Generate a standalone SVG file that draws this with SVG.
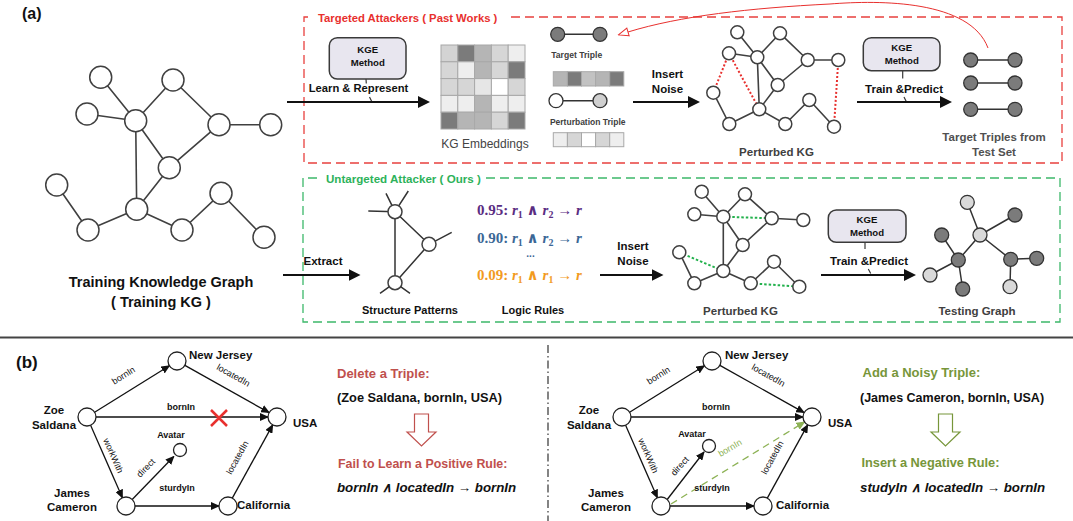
<svg xmlns="http://www.w3.org/2000/svg" width="1073" height="521" viewBox="0 0 1073 521">
<defs>
<style>
text{font-family:"Liberation Sans",Arial,sans-serif;fill:#111}
.b{font-weight:bold}
.c{text-anchor:middle}
.e{stroke:#404040;stroke-width:1.6;fill:none}
.n{fill:#fff;stroke:#404040;stroke-width:1.5}
.dk{fill:#7b7b7b;stroke:#333;stroke-width:1.3}
.lt{fill:#d9d9d9;stroke:#333;stroke-width:1.3}
.ar{stroke:#111;stroke-width:2;fill:none}
.kge{fill:#e8e6ef;stroke:#3a3a3a;stroke-width:1.5}
.kt{font-size:9.6px;font-weight:bold;text-anchor:middle}
.tk{stroke:#3a3a3a;stroke-width:1.2;fill:none}
.rd{stroke:#e8302e;stroke-width:2;stroke-dasharray:2 2;fill:none}
.gd{stroke:#22b14c;stroke-width:2;stroke-dasharray:2.5 2;fill:none}
.be{stroke:#111;stroke-width:1.3;fill:none}
.bn{fill:#fff;stroke:#222;stroke-width:1.3}
.bl{font-size:11.5px;font-weight:bold}
.el{font-size:9px}
.gl{font-size:11.5px;font-weight:bold;fill:#404040}
.rule{font-family:"Liberation Serif","DejaVu Serif",serif;font-weight:bold;font-size:15px}
.v{font-style:italic}
.sub{font-size:10px}
.cell{stroke:#a8a8a8;stroke-width:1}
</style>
<marker id="ah" markerUnits="userSpaceOnUse" markerWidth="12" markerHeight="12" refX="8" refY="6" orient="auto"><path d="M0,0 L12,6 L0,12 z" fill="#111"/></marker>
<marker id="sh" markerUnits="userSpaceOnUse" markerWidth="9" markerHeight="8" refX="8" refY="4" orient="auto"><path d="M0,0 L9,4 L0,8 z" fill="#111"/></marker>
<marker id="gh" markerUnits="userSpaceOnUse" markerWidth="9" markerHeight="8" refX="8" refY="4" orient="auto"><path d="M0,0 L9,4 L0,8 z" fill="#8db255"/></marker>
<marker id="oh" markerUnits="userSpaceOnUse" markerWidth="12" markerHeight="10" refX="1" refY="5" orient="auto"><path d="M1,1 L11,5 L1,9 z" fill="#fff" stroke="#e8302e" stroke-width="1"/></marker>
</defs>

<rect width="1073" height="521" fill="#fff"/>

<text x="22" y="19" class="b" font-size="16">(a)</text>

<!-- Training KG -->
<g id="training-kg">
<path class="e" d="M100.7,77.3 L135.7,120.7 M87,114 L135.7,120.7 M135.7,120.7 L173,80 M173,80 L219,124.7 M219,124.7 L270.7,124.7 M219,124.7 L169.3,167.7 M135.7,120.7 L169.3,167.7 M135.7,120.7 L136.7,209.3 M169.3,167.7 L136.7,209.3 M56.7,185 L88,230 M88,230 L136.7,209.3 M136.7,209.3 L182,230 M182,230 L221,193.3 M221,193.3 L264,237.3"/>
<circle class="n" cx="100.7" cy="77.3" r="11"/>
<circle class="n" cx="173" cy="80" r="11"/>
<circle class="n" cx="87" cy="114" r="11"/>
<circle class="n" cx="135.7" cy="120.7" r="11"/>
<circle class="n" cx="219" cy="124.7" r="11"/>
<circle class="n" cx="270.7" cy="124.7" r="11"/>
<circle class="n" cx="169.3" cy="167.7" r="11"/>
<circle class="n" cx="56.7" cy="185" r="11"/>
<circle class="n" cx="136.7" cy="209.3" r="11"/>
<circle class="n" cx="221" cy="193.3" r="11"/>
<circle class="n" cx="88" cy="230" r="11"/>
<circle class="n" cx="182" cy="230" r="11"/>
<circle class="n" cx="264" cy="237.3" r="11"/>
<text x="161" y="287" class="b c" font-size="14.5">Training Knowledge Graph</text>
<text x="161" y="307" class="b c" font-size="14.5">( Training KG )</text>
</g>

<!-- Targeted box -->
<g id="targeted-box">
<path d="M511,17 H1062 V163 H304 V17 H313" fill="none" stroke="#e8403e" stroke-width="1.3" stroke-dasharray="9 5"/>
<text x="318" y="21.5" class="b" font-size="11.3" fill="#e8302e" style="fill:#e8302e">Targeted Attackers ( Past Works )</text>
</g>

<!-- Untargeted box -->
<g id="untargeted-box">
<path d="M486,178 H1060 V322 H303 V178 H318" fill="none" stroke="#3cb86a" stroke-width="1.3" stroke-dasharray="9 5"/>
<text x="326" y="183" class="b" font-size="11.6" style="fill:#2db25a">Untargeted Attacker ( Ours )</text>
</g>

<!-- KGE box 1 -->
<g id="kge1">
<rect class="kge" x="329.3" y="37.7" width="76.7" height="41.3" rx="8"/>
<text x="367.7" y="53" class="kt">KGE</text>
<text x="367.7" y="66" class="kt">Method</text>
<path class="tk" d="M366,79 L366.3,83.5 M369.5,97 L372,102"/>
<text x="358.5" y="92" class="b c" font-size="11.2">Learn &amp; Represent</text>
</g>

<!-- KG embeddings -->
<g id="kg-embeddings">
<rect class="cell" x="441" y="45" width="16.8" height="16.8" fill="#d3d3d3"/>
<rect class="cell" x="457.8" y="45" width="16.8" height="16.8" fill="#7b7b7b"/>
<rect class="cell" x="474.6" y="45" width="16.8" height="16.8" fill="#b5b5b5"/>
<rect class="cell" x="491.4" y="45" width="16.8" height="16.8" fill="#d6d6d6"/>
<rect class="cell" x="508.2" y="45" width="16.8" height="16.8" fill="#eeeeee"/>
<rect class="cell" x="441" y="61.8" width="16.8" height="16.8" fill="#d6d6d6"/>
<rect class="cell" x="457.8" y="61.8" width="16.8" height="16.8" fill="#eeeeee"/>
<rect class="cell" x="474.6" y="61.8" width="16.8" height="16.8" fill="#b5b5b5"/>
<rect class="cell" x="491.4" y="61.8" width="16.8" height="16.8" fill="#d6d6d6"/>
<rect class="cell" x="508.2" y="61.8" width="16.8" height="16.8" fill="#7b7b7b"/>
<rect class="cell" x="441" y="78.6" width="16.8" height="16.8" fill="#d6d6d6"/>
<rect class="cell" x="457.8" y="78.6" width="16.8" height="16.8" fill="#d6d6d6"/>
<rect class="cell" x="474.6" y="78.6" width="16.8" height="16.8" fill="#e6e6e6"/>
<rect class="cell" x="491.4" y="78.6" width="16.8" height="16.8" fill="#ffffff"/>
<rect class="cell" x="508.2" y="78.6" width="16.8" height="16.8" fill="#d6d6d6"/>
<rect class="cell" x="441" y="95.4" width="16.8" height="16.8" fill="#eeeeee"/>
<rect class="cell" x="457.8" y="95.4" width="16.8" height="16.8" fill="#eeeeee"/>
<rect class="cell" x="474.6" y="95.4" width="16.8" height="16.8" fill="#b5b5b5"/>
<rect class="cell" x="491.4" y="95.4" width="16.8" height="16.8" fill="#eeeeee"/>
<rect class="cell" x="508.2" y="95.4" width="16.8" height="16.8" fill="#eeeeee"/>
<rect class="cell" x="441" y="112.2" width="16.8" height="16.8" fill="#7b7b7b"/>
<rect class="cell" x="457.8" y="112.2" width="16.8" height="16.8" fill="#b5b5b5"/>
<rect class="cell" x="474.6" y="112.2" width="16.8" height="16.8" fill="#b5b5b5"/>
<rect class="cell" x="491.4" y="112.2" width="16.8" height="16.8" fill="#d6d6d6"/>
<rect class="cell" x="508.2" y="112.2" width="16.8" height="16.8" fill="#7b7b7b"/>
<text x="485" y="148" class="c" font-size="12" style="fill:#444">KG Embeddings</text>
</g>

<!-- Target / perturbation triple -->
<g id="triples">
<line x1="557.7" y1="34.3" x2="600" y2="34.3" stroke="#333" stroke-width="1.5"/>
<circle class="dk" cx="557.7" cy="34.3" r="7"/>
<circle class="dk" cx="600" cy="34.3" r="7"/>
<text x="576.7" y="58" class="b c" font-size="8.6" style="fill:#404040">Target Triple</text>
<rect class="cell" x="553.3" y="71.7" width="14.1" height="14.3" fill="#b5b5b5"/>
<rect class="cell" x="567.4" y="71.7" width="14.1" height="14.3" fill="#7b7b7b"/>
<rect class="cell" x="581.5" y="71.7" width="14.1" height="14.3" fill="#c2c2c2"/>
<rect class="cell" x="595.6" y="71.7" width="14.1" height="14.3" fill="#b5b5b5"/>
<rect class="cell" x="609.7" y="71.7" width="14.1" height="14.3" fill="#7b7b7b"/>
<line x1="556" y1="100.7" x2="600" y2="100.7" stroke="#333" stroke-width="1.5"/>
<circle cx="556" cy="100.7" r="7" fill="#fff" stroke="#333" stroke-width="1.3"/>
<circle cx="600" cy="100.7" r="7" fill="#d0d0d0" stroke="#333" stroke-width="1.3"/>
<text x="587.7" y="125" class="b c" font-size="8.5" style="fill:#404040">Perturbation Triple</text>
<rect class="cell" x="553.3" y="132.7" width="14.1" height="14" fill="#eeeeee"/>
<rect class="cell" x="567.4" y="132.7" width="14.1" height="14" fill="#d6d6d6"/>
<rect class="cell" x="581.5" y="132.7" width="14.1" height="14" fill="#ffffff"/>
<rect class="cell" x="595.6" y="132.7" width="14.1" height="14" fill="#d6d6d6"/>
<rect class="cell" x="609.7" y="132.7" width="14.1" height="14" fill="#eeeeee"/>
</g>

<!-- Perturbed KG top -->
<g id="perturbed-kg-top">
<path class="e" stroke-width="1.5" d="M737.3,32.3 L757.3,57.3 M729,53.3 L757.3,57.3 M757.3,57.3 L780,33.3 M780,33.3 L807.7,60 M807.7,60 L838.3,60 M807.7,60 L777.7,85 M757.3,57.3 L777.7,85 M757.3,57.3 L759.3,109.3 M777.7,85 L759.3,109.3 M713.3,92.7 L729.3,124 M729.3,124 L759.3,109.3 M759.3,109.3 L785.3,124 M785.3,124 L809.3,100 M809.3,100 L834,126.7"/>
<path class="rd" d="M729,53.3 L713.3,92.7 M729,53.3 L759.3,109.3 M838.3,60 L834,126.7"/>
<circle class="n" cx="737.3" cy="32.3" r="6.5"/>
<circle class="n" cx="780" cy="33.3" r="6.5"/>
<circle class="n" cx="729" cy="53.3" r="6.5"/>
<circle class="n" cx="757.3" cy="57.3" r="6.5"/>
<circle class="n" cx="807.7" cy="60" r="6.5"/>
<circle class="n" cx="838.3" cy="60" r="6.5"/>
<circle class="n" cx="777.7" cy="85" r="6.5"/>
<circle class="n" cx="713.3" cy="92.7" r="6.5"/>
<circle class="n" cx="759.3" cy="109.3" r="6.5"/>
<circle class="n" cx="809.3" cy="100" r="6.5"/>
<circle class="n" cx="729.3" cy="124" r="6.5"/>
<circle class="n" cx="785.3" cy="124" r="6.5"/>
<circle class="n" cx="834" cy="126.7" r="6.5"/>
<text x="776.5" y="156" class="gl c">Perturbed KG</text>
</g>

<!-- KGE box 2 -->
<g id="kge2">
<rect class="kge" x="863.3" y="37.7" width="76.7" height="33" rx="8"/>
<text x="901.7" y="51" class="kt">KGE</text>
<text x="901.7" y="64" class="kt">Method</text>
<path class="tk" d="M902.7,70.7 L902.7,78.5 M904,97 L906.5,102"/>
<text x="904" y="92.5" class="b c" font-size="11.5">Train &amp;Predict</text>
</g>

<!-- Target triples from test set -->
<g id="target-triples">
<path stroke="#333" stroke-width="1.5" d="M970.7,60 H1015 M970.7,83 H1015 M970.7,109.3 H1015"/>
<circle class="dk" cx="970.7" cy="60" r="7"/>
<circle class="dk" cx="1015" cy="60" r="7"/>
<circle class="dk" cx="970.7" cy="83" r="7"/>
<circle class="dk" cx="1015" cy="83" r="7"/>
<circle class="dk" cx="970.7" cy="109.3" r="7"/>
<circle class="dk" cx="1015" cy="109.3" r="7"/>
<text x="994" y="141" class="b c" font-size="11.5" style="fill:#505050">Target Triples from</text>
<text x="994" y="156" class="b c" font-size="11.5" style="fill:#505050">Test Set</text>
</g>

<!-- Structure patterns -->
<g id="structure-patterns">
<path stroke="#333" stroke-width="1.5" fill="none" d="M395,211.7 L395,282.7 M395,211.7 L429,244.3 M429,244.3 L395,282.7 M395,211.7 L386,193.3 M395,211.7 L408.3,191 M395,211.7 L368.3,211 M429,244.3 L451.7,232.3 M395,282.7 L380,293.3 M395,282.7 L410,293.3"/>
<circle class="n" cx="395" cy="211.7" r="7"/>
<circle class="n" cx="429" cy="244.3" r="7"/>
<circle class="n" cx="395" cy="282.7" r="7"/>
<text x="410" y="314" class="b c" font-size="11">Structure Patterns</text>
</g>

<!-- Logic rules -->
<g id="logic-rules">
<text x="477" y="215" class="rule" style="fill:#5a2d82">0.95: <tspan class="v">r</tspan><tspan class="sub" dy="3">1</tspan><tspan dy="-3"> ∧ </tspan><tspan class="v">r</tspan><tspan class="sub" dy="3">2</tspan><tspan dy="-3"> → </tspan><tspan class="v">r</tspan></text>
<text x="477" y="242.5" class="rule" style="fill:#3b6796">0.90: <tspan class="v">r</tspan><tspan class="sub" dy="3">1</tspan><tspan dy="-3"> ∧ </tspan><tspan class="v">r</tspan><tspan class="sub" dy="3">2</tspan><tspan dy="-3"> → </tspan><tspan class="v">r</tspan></text>
<text x="530.5" y="257" class="b c" font-size="10" style="fill:#3b6796">...</text>
<text x="477" y="279.5" class="rule" style="fill:#f29b1f">0.09: <tspan class="v">r</tspan><tspan class="sub" dy="3">1</tspan><tspan dy="-3"> ∧ </tspan><tspan class="v">r</tspan><tspan class="sub" dy="3">1</tspan><tspan dy="-3"> → </tspan><tspan class="v">r</tspan></text>
<text x="533" y="314" class="b c" font-size="11">Logic Rules</text>
</g>

<!-- Perturbed KG bottom -->
<g id="perturbed-kg-bottom">
<path class="e" stroke-width="1.5" d="M701.7,191.7 L723.3,216.7 M694.3,214.3 L723.3,216.7 M723.3,216.7 L745,194.3 M745,194.3 L771.7,218.3 M771.7,218.3 L803.3,220 M771.7,218.3 L742.7,245 M723.3,216.7 L742.7,245 M723.3,216.7 L723.3,271 M742.7,245 L723.3,271 M679.3,252.3 L694.3,283.3 M694.3,283.3 L723.3,271 M723.3,271 L750.7,283.3 M750.7,283.3 L774,261.7 M774,261.7 L799.3,286.7"/>
<path class="gd" d="M723.3,216.7 L771.7,218.3 M679.3,252.3 L723.3,271 M750.7,283.3 L799.3,286.7"/>
<circle class="n" cx="701.7" cy="191.7" r="6.5"/>
<circle class="n" cx="745" cy="194.3" r="6.5"/>
<circle class="n" cx="694.3" cy="214.3" r="6.5"/>
<circle class="n" cx="723.3" cy="216.7" r="6.5"/>
<circle class="n" cx="771.7" cy="218.3" r="6.5"/>
<circle class="n" cx="803.3" cy="220" r="6.5"/>
<circle class="n" cx="742.7" cy="245" r="6.5"/>
<circle class="n" cx="679.3" cy="252.3" r="6.5"/>
<circle class="n" cx="723.3" cy="271" r="6.5"/>
<circle class="n" cx="774" cy="261.7" r="6.5"/>
<circle class="n" cx="694.3" cy="283.3" r="6.5"/>
<circle class="n" cx="750.7" cy="283.3" r="6.5"/>
<circle class="n" cx="799.3" cy="286.7" r="6.5"/>
<text x="740.5" y="315" class="gl c">Perturbed KG</text>
</g>

<!-- KGE box 3 -->
<g id="kge3">
<rect class="kge" x="828.3" y="210" width="77.7" height="32.3" rx="8"/>
<text x="867" y="223" class="kt">KGE</text>
<text x="867" y="236" class="kt">Method</text>
<path class="tk" d="M865,242.3 L865,249 M868.3,269 L870.7,273.5"/>
<text x="869" y="264.5" class="b c" font-size="11.5">Train &amp;Predict</text>
</g>

<!-- Testing graph -->
<g id="testing-graph">
<path stroke="#333" stroke-width="1.5" fill="none" d="M967.3,202.3 L980,235 M1015,215 L980,235 M980,235 L958.3,260 M980,235 L1010.7,259.3 M941.7,235 L958.3,260 M958.3,260 L930,275 M958.3,260 L962.7,289 M1010.7,259.3 L1036.7,258.3 M1010.7,259.3 L1010,286.7"/>
<circle class="lt" cx="967.3" cy="202.3" r="7"/>
<circle class="dk" cx="1015" cy="215" r="7"/>
<circle class="dk" cx="941.7" cy="235" r="7"/>
<circle class="lt" cx="980" cy="235" r="7"/>
<circle class="dk" cx="958.3" cy="260" r="7"/>
<circle class="dk" cx="1010.7" cy="259.3" r="7"/>
<circle class="dk" cx="1036.7" cy="258.3" r="7"/>
<circle class="lt" cx="930" cy="275" r="7"/>
<circle class="dk" cx="962.7" cy="289" r="7"/>
<circle class="lt" cx="1010" cy="286.7" r="7"/>
<text x="977" y="315" class="gl c">Testing Graph</text>
</g>

<!-- Connectors (a) -->
<g id="connectors-a">
<line class="ar" x1="287" y1="102" x2="426" y2="102" marker-end="url(#ah)"/>
<line class="ar" x1="633" y1="102" x2="696" y2="102" marker-end="url(#ah)"/>
<line class="ar" x1="857" y1="102" x2="948" y2="102" marker-end="url(#ah)"/>
<line class="ar" x1="283" y1="275" x2="356.5" y2="275" marker-end="url(#ah)"/>
<line class="ar" x1="600" y1="275" x2="659.5" y2="275" marker-end="url(#ah)"/>
<line class="ar" x1="821" y1="275" x2="912" y2="275" marker-end="url(#ah)"/>
<path d="M988,48 C970,0 880,0 830,4 C750,8 680,16 628,32" fill="none" stroke="#e8302e" stroke-width="1" marker-end="url(#oh)"/>
<text x="323" y="265" class="b c" font-size="11.5">Extract</text>
<text x="667.5" y="78" class="b c" font-size="11.5">Insert</text>
<text x="667.5" y="93" class="b c" font-size="11.5">Noise</text>
<text x="633" y="250" class="b c" font-size="11.5">Insert</text>
<text x="633" y="265" class="b c" font-size="11.5">Noise</text>
</g>

<!-- separators -->
<line x1="0" y1="337.5" x2="1073" y2="337.5" stroke="#444" stroke-width="2"/>
<line x1="548" y1="345" x2="548" y2="521" stroke="#333" stroke-width="1.2" stroke-dasharray="8 3 1.5 3"/>

<text x="16" y="368" class="b" font-size="17">(b)</text>

<!-- (b) left graph -->
<g id="connectors-b-left">
<line class="be" x1="94.6" y1="412.2" x2="169.4" y2="365.8" marker-end="url(#sh)"/>
<line class="be" x1="184.9" y1="365.4" x2="269.1" y2="412.6" marker-end="url(#sh)"/>
<line class="be" x1="96" y1="417" x2="268" y2="417" marker-end="url(#sh)"/>
<line class="be" x1="90.6" y1="425.2" x2="122.4" y2="497.8" marker-end="url(#sh)"/>
<line class="be" x1="132.2" y1="499.5" x2="173.8" y2="456.5" marker-end="url(#sh)"/>
<line class="be" x1="135" y1="506" x2="219" y2="506" marker-end="url(#sh)"/>
<line class="be" x1="232.3" y1="498.1" x2="272.7" y2="424.9" marker-end="url(#sh)"/>
<text class="el c" transform="translate(125,378) rotate(-31.9)">bornIn</text>
<text class="el c" transform="translate(232,378) rotate(29.2)">locatedIn</text>
<text class="el c b" x="181" y="409.5">bornIn</text>
<text class="el c" transform="translate(110.5,457) rotate(66.3)">workWith</text>
<text class="el c" transform="translate(148,470) rotate(-46)">direct</text>
<text class="el c b" x="177" y="490.5">sturdyIn</text>
<text class="el c" transform="translate(240,459) rotate(-61.2)">locatedIn</text>
<path d="M211,410 L227,426 M227,410 L211,426" stroke="#e8302e" stroke-width="2.5"/>
</g>
<g id="b-zoe-left"><circle class="bn" cx="87" cy="417" r="9"/><text class="bl c" x="54" y="414">Zoe</text><text class="bl c" x="54" y="429">Saldana</text></g>
<g id="b-nj-left"><circle class="bn" cx="177" cy="361" r="9"/><text class="bl" x="189" y="359">New Jersey</text></g>
<g id="b-usa-left"><circle class="bn" cx="277" cy="417" r="9"/><text class="bl" x="293" y="427">USA</text></g>
<g id="b-avatar-left"><circle class="bn" cx="180" cy="450" r="6.5"/><text class="b c" font-size="9" x="171" y="438">Avatar</text></g>
<g id="b-jc-left"><circle class="bn" cx="126" cy="506" r="9"/><text class="bl c" x="72" y="496.5">James</text><text class="bl c" x="72" y="510.5">Cameron</text></g>
<g id="b-ca-left"><circle class="bn" cx="228" cy="506" r="9"/><text class="bl" x="237" y="508.5">California</text></g>

<!-- (b) left text -->
<g id="b-left-text">
<text x="337" y="377.5" class="b" font-size="13" style="fill:#c0504d">Delete a Triple:</text>
<text x="337" y="401.5" class="b" font-size="12.8">(Zoe Saldana, bornIn, USA)</text>
<path d="M414.5,414 H428.5 V432 H436 L421.5,446 L407,432 H414.5 Z" fill="#fff" stroke="#c0504d" stroke-width="1.2"/>
<text x="338" y="467.5" class="b" font-size="12.4" style="fill:#c0504d">Fail to Learn a Positive Rule:</text>
<text x="337" y="491.5" class="b" font-size="13.3" font-style="italic">bornIn  ∧ locatedIn → bornIn</text>
</g>

<!-- (b) right graph -->
<g id="connectors-b-right">
<line class="be" x1="629.6" y1="412.2" x2="704.4" y2="365.8" marker-end="url(#sh)"/>
<line class="be" x1="719.9" y1="365.4" x2="804.1" y2="412.6" marker-end="url(#sh)"/>
<line class="be" x1="631" y1="417" x2="803" y2="417" marker-end="url(#sh)"/>
<line class="be" x1="625.6" y1="425.2" x2="657.4" y2="497.8" marker-end="url(#sh)"/>
<line class="be" x1="667.2" y1="499.5" x2="704" y2="452" marker-end="url(#sh)"/>
<line class="be" x1="670" y1="506" x2="754" y2="506" marker-end="url(#sh)"/>
<line class="be" x1="767.3" y1="498.1" x2="807.7" y2="424.9" marker-end="url(#sh)"/>
<line x1="671" y1="504" x2="804.5" y2="422" stroke="#8db255" stroke-width="1.3" stroke-dasharray="7 5" marker-end="url(#gh)"/>
<text class="el c" transform="translate(660,378) rotate(-31.9)">bornIn</text>
<text class="el c" transform="translate(767,378) rotate(29.2)">locatedIn</text>
<text class="el c b" x="716" y="409.5">bornIn</text>
<text class="el c" transform="translate(645.5,457) rotate(66.3)">workWith</text>
<text class="el c" transform="translate(682,468) rotate(-48)">direct</text>
<text class="el c b" x="712" y="490.5">sturdyIn</text>
<text class="el c" transform="translate(775,459) rotate(-61.2)">locatedIn</text>
<text class="el c" transform="translate(731.5,450.5) rotate(-30.2)" style="fill:#8db255">bornIn</text>
</g>
<g id="b-zoe-right"><circle class="bn" cx="622" cy="417" r="9"/><text class="bl c" x="589" y="414">Zoe</text><text class="bl c" x="589" y="429">Saldana</text></g>
<g id="b-nj-right"><circle class="bn" cx="712" cy="361" r="9"/><text class="bl" x="725" y="359">New Jersey</text></g>
<g id="b-usa-right"><circle class="bn" cx="812" cy="417" r="9"/><text class="bl" x="828" y="427">USA</text></g>
<g id="b-avatar-right"><circle class="bn" cx="709" cy="446" r="6.5"/><text class="b c" font-size="9" x="692" y="437">Avatar</text></g>
<g id="b-jc-right"><circle class="bn" cx="661" cy="506" r="9"/><text class="bl c" x="606" y="496.5">James</text><text class="bl c" x="606" y="510.5">Cameron</text></g>
<g id="b-ca-right"><circle class="bn" cx="763" cy="506" r="9"/><text class="bl" x="776" y="508.5">California</text></g>

<!-- (b) right text -->
<g id="b-right-text">
<text x="862.5" y="376.5" class="b" font-size="13" style="fill:#77963a">Add a Noisy Triple:</text>
<text x="860" y="401.5" class="b" font-size="12.5">(James Cameron, bornIn, USA)</text>
<path d="M938.5,414 H952.5 V432 H960 L945.5,446 L931,432 H938.5 Z" fill="#fff" stroke="#77963a" stroke-width="1.2"/>
<text x="861.5" y="466.5" class="b" font-size="12.8" style="fill:#77963a">Insert a Negative Rule:</text>
<text x="860" y="491.5" class="b" font-size="13.3" font-style="italic">studyIn ∧ locatedIn → bornIn</text>
</g>
</svg>
